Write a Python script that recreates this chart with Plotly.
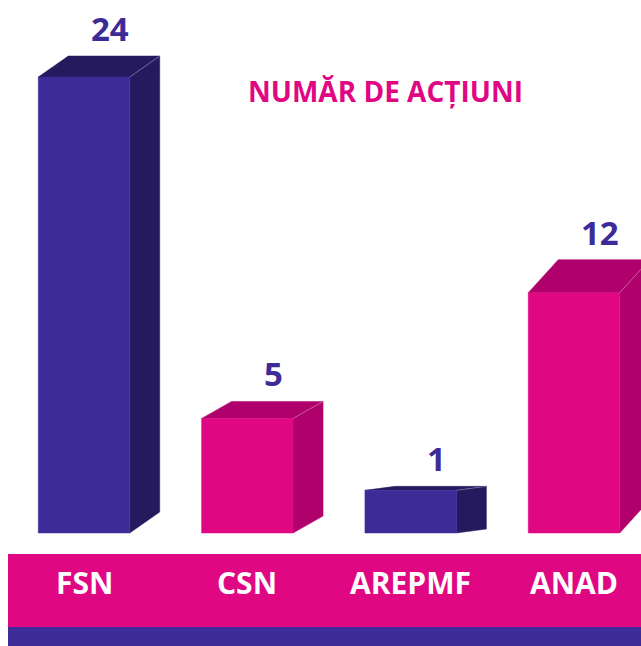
import plotly.graph_objects as go

# data
categories = ['FSN', 'CSN', 'AREPMF', 'ANAD']
actions = [24, 5, 1, 12]
title_text = 'NUMĂR DE ACȚIUNI'

# style
BLUE = '#3D2C98'
BLUE_DARK = '#251A5E'
PINK = '#E00882'
PINK_DARK = '#B0006B'
front_colors = [BLUE, PINK, BLUE, PINK]
side_colors = [BLUE_DARK, PINK_DARK, BLUE_DARK, PINK_DARK]

W, H = 641, 646
x_range = [-0.5143, 3.4103]
y_range = [-7.663, 28.286]
bar_floor = -1.3745        # where the boxes stand (just above the label band)
half_w = 0.28              # half width of a bar front, in category units
px_x = W / (x_range[1] - x_range[0])
px_y = H / (y_range[1] - y_range[0])
depth_x = 30 / px_x        # oblique depth to the right
depth_rise_px = [21, 17, 4, 33]   # perspective rise of the back edge, per bar

fig = go.Figure()

for i, (cat, val) in enumerate(zip(categories, actions)):
    dy = depth_rise_px[i] / px_y
    x0, x1 = i - half_w, i + half_w
    # side face
    fig.add_trace(go.Scatter(
        x=[x1, x1 + depth_x, x1 + depth_x, x1, x1],
        y=[bar_floor, bar_floor + dy, val + dy, val, bar_floor],
        fill='toself', fillcolor=side_colors[i], mode='lines',
        line=dict(color=side_colors[i], width=0.5),
        hoverinfo='skip', showlegend=False
    ))
    # top face
    fig.add_trace(go.Scatter(
        x=[x0, x0 + depth_x, x1 + depth_x, x1, x0],
        y=[val, val + dy, val + dy, val, val],
        fill='toself', fillcolor=side_colors[i], mode='lines',
        line=dict(color=side_colors[i], width=0.5),
        hoverinfo='skip', showlegend=False
    ))
    # front face
    fig.add_trace(go.Scatter(
        x=[x0, x1, x1, x0, x0],
        y=[bar_floor, bar_floor, val, val, bar_floor],
        fill='toself', fillcolor=front_colors[i], mode='lines',
        line=dict(color=front_colors[i], width=0.5),
        name=cat, hovertemplate=f'{cat}: {val}<extra></extra>', showlegend=False
    ))
    # light edge between top and side
    fig.add_trace(go.Scatter(
        x=[x1, x1 + depth_x], y=[val, val + dy], mode='lines',
        line=dict(color='rgba(255,255,255,0.3)', width=1),
        hoverinfo='skip', showlegend=False
    ))

annotations = []
for i, val in enumerate(actions):
    dy = depth_rise_px[i] / px_y
    annotations.append(dict(
        x=i + 0.16, y=val + dy, xref='x', yref='y',
        text=f'<b>{val}</b>', showarrow=False, yanchor='bottom', yshift=3,
        font=dict(family='Open Sans', size=33, color=BLUE)
    ))
    annotations.append(dict(
        x=i, y=1 - 582 / H, xref='x', yref='paper',
        text=f'<b>{categories[i]}</b>', showarrow=False, yanchor='middle',
        font=dict(family='Open Sans', size=30, color='white')
    ))
annotations.append(dict(
    x=386 / W, y=1 - 91 / H, xref='paper', yref='paper',
    text=f'<b>{title_text}</b>', showarrow=False, yanchor='middle',
    font=dict(family='Open Sans', size=28, color=PINK)
))

fig.update_layout(
    width=W, height=H,
    margin=dict(l=0, r=0, t=0, b=0),
    paper_bgcolor='white', plot_bgcolor='white',
    xaxis=dict(range=x_range, visible=False, fixedrange=True),
    yaxis=dict(range=y_range, visible=False, fixedrange=True),
    annotations=annotations,
    shapes=[
        dict(type='rect', xref='paper', yref='paper', layer='below',
             x0=8 / W, x1=1, y0=1 - 627 / H, y1=1 - 554 / H,
             fillcolor=PINK, line=dict(width=0)),
        dict(type='rect', xref='paper', yref='paper', layer='below',
             x0=8 / W, x1=1, y0=0, y1=1 - 627 / H,
             fillcolor=BLUE, line=dict(width=0)),
    ]
)

# drop the default page margin so the figure fills the window exactly
fig.write_html(
    'out.html',
    config={'displayModeBar': False},
    post_script="document.body.style.margin='0';document.body.style.overflow='hidden';"
)
